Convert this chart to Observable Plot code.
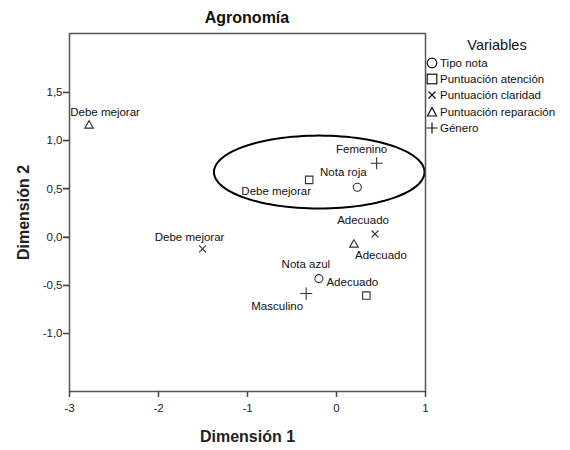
<!DOCTYPE html>
<html>
<head>
<meta charset="utf-8">
<script src="https://cdn.jsdelivr.net/npm/d3@7"></script>
<script src="https://cdn.jsdelivr.net/npm/@observablehq/plot@0.6"></script>
<style>
  html, body { margin: 0; padding: 0; background: #fff; }
  #wrap { position: relative; width: 570px; height: 450px; font-family: "Liberation Sans", Arial, sans-serif; }
  #title { position: absolute; left: 69px; width: 356px; top: 9px; text-align: center; font-size: 16px; font-weight: bold; color: #111; }
  #legend { position: absolute; left: 426px; top: 37px; width: 144px; font-size: 11.5px; color: #111; }
  #legend .head { text-align: center; font-size: 14.5px; width: 142px; margin-bottom: 2px; }
  #legend .row { height: 16.2px; display: flex; align-items: center; }
  #legend .glyph { width: 12px; height: 12px; margin-right: 2px; }
  #ticks { position: absolute; left: 0; top: 0; width: 570px; height: 450px; pointer-events: none; z-index: 3; }
</style>
</head>
<body>
<div id="wrap">
  <div id="title">Agronomía</div>
  <div id="legend"></div>
</div>
<script>
// ---- data ----
const categories = ["Nota roja","Nota azul","Debe mejorar","Adecuado","Debe mejorar","Adecuado","Debe mejorar","Adecuado","Femenino","Masculino"];
const variables = ["Tipo nota","Tipo nota","Puntuación atención","Puntuación atención","Puntuación claridad","Puntuación claridad","Puntuación reparación","Puntuación reparación","Género","Género"];
const dim1 = [0.234, -0.198, -0.307, 0.335, -1.505, 0.433, -2.78, 0.196, 0.451, -0.341];
const dim2 = [0.516, -0.43, 0.593, -0.606, -0.122, 0.033, 1.155, -0.078, 0.765, -0.585];
const variableNames = ["Tipo nota","Puntuación atención","Puntuación claridad","Puntuación reparación","Género"];
const xTicks = [-3, -2, -1, 0, 1];
const yTicks = [-1.0, -0.5, 0.0, 0.5, 1.0, 1.5];
// annotation ellipse (center and radii in data units)
const ellipse = {cx: -0.194, cy: 0.674, rx: 1.183, ry: 0.378};

// ---- layout (label placement offsets, px) ----
const labelDx = [-14, -13, -33, -14, -13, -12, 16, 27, -15, -29];
const labelDy = [-15, -14, 11, -13, -12, -14, -13, 11, -14, 13];
const symbolOf = {"Tipo nota": "circle", "Puntuación atención": "square", "Puntuación claridad": "times", "Puntuación reparación": "triangle", "Género": "plus"};
const rOf = {"Tipo nota": 4, "Puntuación atención": 4.2, "Puntuación claridad": 3.2, "Puntuación reparación": 3.2, "Género": 4};

const points = categories.map((c, i) => ({cat: c, variable: variables[i], x: dim1[i], y: dim2[i], dx: labelDx[i], dy: labelDy[i]}));
const angles = d3.range(0, 361, 3);
const ellipsePts = angles.map(a => ({x: ellipse.cx + ellipse.rx * Math.cos(a * Math.PI / 180), y: ellipse.cy + ellipse.ry * Math.sin(a * Math.PI / 180)}));

const comma = v => d3.format(".1f")(v).replace(".", ",").replace("−", "-");

const marks = [
  Plot.line(ellipsePts, {x: "x", y: "y", curve: "linear-closed", stroke: "#000", strokeWidth: 2}),
  ...variableNames.map(v => Plot.dot(points.filter(p => p.variable === v), {x: "x", y: "y", symbol: () => symbolOf[v], r: rOf[v], stroke: "#333", fill: "none", strokeWidth: 1.1})),
  ...points.map(p => Plot.text([p], {x: "x", y: "y", text: "cat", dx: p.dx, dy: p.dy, fontSize: 11.5, fill: "#111"})),
  Plot.axisX({ticks: xTicks, tickSize: 6, tickPadding: 6, tickFormat: d => String(d).replace("−", "-"), fontSize: 11.5, label: "Dimensión 1", labelAnchor: "center", labelArrow: "none", labelOffset: 50}),
  Plot.axisY({ticks: yTicks, tickSize: 6, tickPadding: 1, tickFormat: comma, fontSize: 11.5, label: "Dimensión 2", labelAnchor: "center", labelArrow: "none", labelOffset: 52}),
  Plot.frame({stroke: "#555", strokeWidth: 1.5})
];

const chart = Plot.plot({
  width: 570,
  height: 450,
  marginLeft: 69,
  marginRight: 145,
  marginTop: 33,
  marginBottom: 59,
  x: {domain: [-3, 1]},
  y: {domain: [-1.6, 2.11]},
  symbol: {type: "identity"},
  style: {fontFamily: "Liberation Sans, Arial, sans-serif", fontSize: "11.5px", background: "white", color: "#222"},
  marks
});
chart.style.position = "absolute";
chart.style.left = "0";
chart.style.top = "0";
// bold axis titles
chart.querySelectorAll("g[aria-label='x-axis label'] text, g[aria-label='y-axis label'] text").forEach(t => {
  t.setAttribute("font-weight", "bold");
  t.setAttribute("font-size", "16");
});
const wrap = document.getElementById("wrap");
wrap.prepend(chart);

// tick marks overlay, positioned with the plot's own scales
const sx = chart.scale("x"), sy = chart.scale("y");
const ns = "http://www.w3.org/2000/svg";
const ov = document.createElementNS(ns, "svg");
ov.setAttribute("id", "ticks");
ov.setAttribute("width", "570");
ov.setAttribute("height", "450");
const y0 = 450 - 59, x0 = 69;
let d = "";
xTicks.forEach(v => { const px = Math.round(sx.apply(v)) + 0.5; d += `M${px},${y0}V${y0 + 6}`; });
yTicks.forEach(v => { const py = Math.round(sy.apply(v)) + 0.5; d += `M${x0 - 6},${py}H${x0}`; });
const tp = document.createElementNS(ns, "path");
tp.setAttribute("d", d);
tp.setAttribute("stroke", "#444");
tp.setAttribute("stroke-width", "1.5");
tp.setAttribute("fill", "none");
ov.appendChild(tp);
wrap.appendChild(ov);

// legend
const legend = document.getElementById("legend");
const head = document.createElement("div");
head.className = "head";
head.textContent = "Variables";
legend.appendChild(head);
const glyph = {
  "circle": '<circle cx="6" cy="6" r="4.8" fill="none" stroke="#111" stroke-width="1.2"/>',
  "square": '<rect x="1.2" y="1.2" width="9.6" height="9.6" fill="none" stroke="#111" stroke-width="1.2"/>',
  "times": '<path d="M2.5 2.5L9.5 9.5M9.5 2.5L2.5 9.5" stroke="#111" stroke-width="1.2"/>',
  "triangle": '<path d="M6 1.5L10.5 10L1.5 10Z" fill="none" stroke="#111" stroke-width="1.2"/>',
  "plus": '<path d="M6 0.5V11.5M0.5 6H11.5" stroke="#111" stroke-width="1.2"/>'
};
variableNames.forEach(v => {
  const row = document.createElement("div");
  row.className = "row";
  row.innerHTML = '<svg class="glyph" viewBox="0 0 12 12">' + glyph[symbolOf[v]] + '</svg><span>' + v + '</span>';
  legend.appendChild(row);
});
</script>
</body>
</html>
